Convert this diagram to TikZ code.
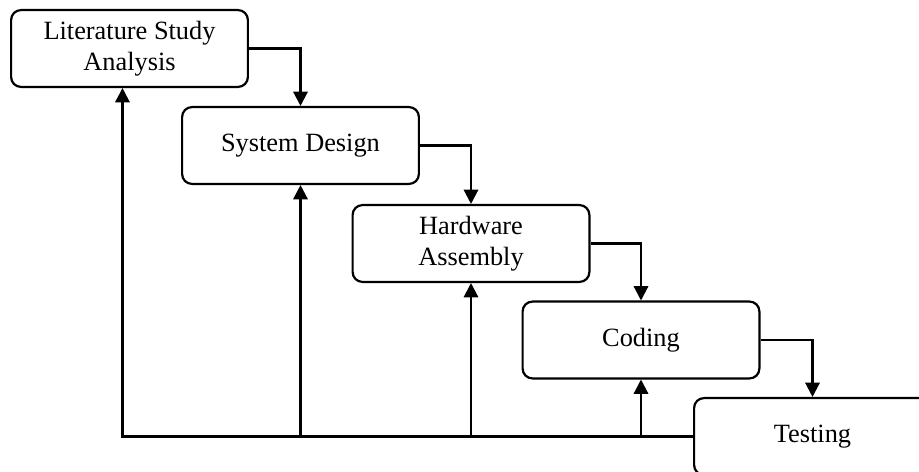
\documentclass[tikz,border=0pt]{standalone}
\usepackage{fontspec}
\setmainfont{Liberation Serif}
\usetikzlibrary{arrows.meta}
\tikzset{
  stage/.style={draw, line width=1pt, rounded corners=4.5pt, align=center,
    minimum width=3.79cm, minimum height=1.23cm, inner sep=2pt,
    font=\fontsize{12}{14}\selectfont},
  flow/.style={line width=1pt, -{Triangle[width=6.5pt,length=6.5pt]}}
}

\begin{document}
\begin{tikzpicture}[x=0.016cm, y=-0.016cm]
      % page
      \clip (0,0) rectangle (919,472);
      % stages of the waterfall
      \node[stage] (lit) at (129.5,48.5) {Literature Study\\Analysis};
      \node[stage] (sysd) at (300.5,145.5) {System Design};
      \node[stage] (hw) at (471,243.5) {Hardware\\Assembly};
      \node[stage] (cod) at (641,340) {Coding};
      \node[stage] (test) at (812.5,436.5) {Testing};
      % going down
      \draw[flow] (lit.east) -| (sysd.north);
      \draw[flow] (sysd.east) -| (hw.north);
      \draw[flow] (hw.east) -| (cod.north);
      \draw[flow] (cod.east) -| (test.north);
      % feedback line along the bottom
      \draw[flow] (test.west) -| ([xshift=-3.2pt]lit.south);
      \draw[flow] (sysd.south |- test.west) -- (sysd.south);
      \draw[flow] (hw.south |- test.west) -- (hw.south);
      \draw[flow] (cod.south |- test.west) -- (cod.south);
    \end{tikzpicture}
\end{document}
